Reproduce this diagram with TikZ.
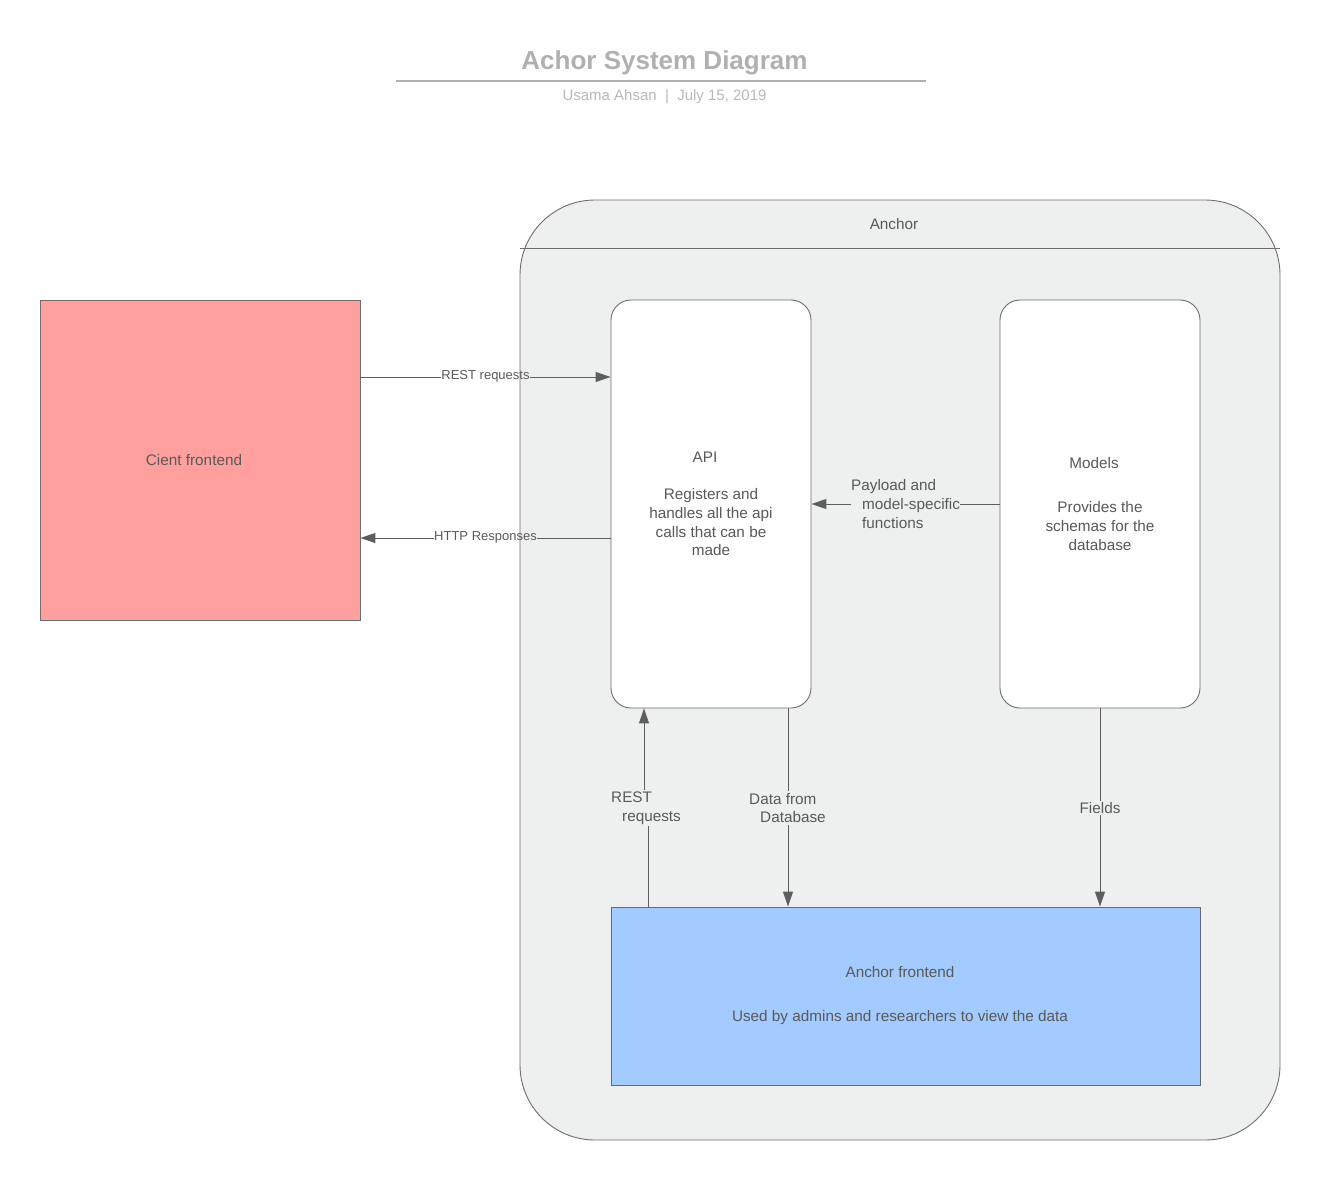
\documentclass[tikz,border=0pt]{standalone}
\usepackage{fontspec}
\setmainfont{Liberation Sans}
\usetikzlibrary{arrows.meta}
\definecolor{txt}{HTML}{595959}
\definecolor{ln}{HTML}{5E5E5E}
\definecolor{bd}{HTML}{6E6E6E}
\definecolor{ttl}{HTML}{B0B0B0}
\definecolor{sub}{HTML}{B8B8B8}
\definecolor{cont}{HTML}{EEF0EF}
\definecolor{redfill}{HTML}{FFA09E}
\definecolor{bluefill}{HTML}{A3CBFF}
\definecolor{bluebd}{HTML}{5F6B7D}
\tikzset{
  body/.style={font=\fontsize{15.3}{18.7}\selectfont, text=txt},
  small/.style={font=\fontsize{13}{15.6}\selectfont, text=txt},
  container/.style={draw=bd, fill=cont, line width=0.9pt, rounded corners=75pt, minimum width=760pt, minimum height=940pt, inner sep=0pt},
  card/.style={draw=bd, fill=white, line width=0.9pt, rounded corners=20pt, minimum width=200pt, minimum height=408pt, inner sep=0pt, body, align=center},
  flatbox/.style={draw=bd, line width=0.9pt, inner sep=0pt, body, align=center},
  lbl/.style={body, align=left, inner xsep=0pt, inner ysep=1.5pt},
  conn/.style={draw=ln, line width=1pt},
  arr/.style={conn, -{Triangle[length=15pt,width=10pt]}}
}
\begin{document}
\begin{tikzpicture}[x=1pt,y=-1pt]
\useasboundingbox (0,0) rectangle (1320,1180);
% title block
\node[font=\fontsize{26}{30}\selectfont\bfseries, text=ttl] (title) at (664.5,63) {Achor System Diagram};
\coordinate (tl) at (396,81);
\coordinate (tr) at (926,81);
\draw[ttl, line width=1.8pt] (tl) -- (tr);
\node[font=\fontsize{15}{18}\selectfont, text=sub] (subtitle) at (664.5,97) {Usama Ahsan\ \ |\ \ July 15, 2019};
% container
\node[container] (anc) at (900,670) {};
\coordinate (hdr) at (0,248);
\draw[bd, line width=0.9pt] (anc.west |- hdr) -- (anc.east |- hdr);
\node[body] (anclbl) at (894,224) {Anchor};
% boxes
\node[flatbox, fill=redfill, minimum width=320pt, minimum height=320pt] (cf) at (200,460) {};
\node[body] (cftxt) at (194,460) {Cient frontend};
\node[card] (api) at (711,504) {API\hspace*{12pt}\\[18.7pt]Registers and\\handles all the api\\calls that can be\\made};
\node[card] (mod) at (1100,504) {Models\hspace*{12pt}\\[25.3pt]Provides the\hspace*{11pt}\\schemas for the\\database};
\node[flatbox, draw=bluebd, fill=bluefill, minimum width=589pt, minimum height=178pt] (afe) at (905.5,996) {Anchor frontend\hspace*{11pt}\\[25.3pt]Used by admins and researchers to view the data\hspace*{11pt}};
% horizontal connectors
\node[small, inner sep=0pt] (rq) at (485.5,376.5) {REST requests};
\coordinate (rqy) at (0,377);
\draw[conn] (cf.east |- rqy) -- (rq.west |- rqy);
\draw[arr] (rq.east |- rqy) -- (api.west |- rqy);
\node[small, inner sep=0pt] (hr) at (485.5,537.5) {HTTP Responses};
\coordinate (hry) at (0,538);
\draw[conn] (api.west |- hry) -- (hr.east |- hry);
\draw[arr] (hr.west |- hry) -- (cf.east |- hry);
\node[lbl, anchor=west] (pl) at (851,504) {Payload and\\\hspace*{11pt}model-specific\\\hspace*{11pt}functions};
\coordinate (ply) at (0,504);
\draw[conn] (mod.west |- ply) -- (pl.east |- ply);
\draw[arr] (pl.west |- ply) -- (api.east |- ply);
% vertical connectors
\node[lbl, anchor=west] (rr) at (611,808) {REST\\\hspace*{11pt}requests};
\coordinate (rrb) at (648,0);
\coordinate (rrt) at (644,0);
\draw[conn] (afe.north -| rrb) -- (rr.south -| rrb);
\draw[arr] (rr.north -| rrt) -- (api.south -| rrt);
\node[lbl, anchor=west] (dd) at (749,808) {Data from\\\hspace*{11pt}Database};
\coordinate (ddx) at (788,0);
\draw[conn] (api.south -| ddx) -- (dd.north -| ddx);
\draw[arr] (dd.south -| ddx) -- (afe.north -| ddx);
\node[lbl, inner xsep=0pt] (fl) at (1100,808) {Fields};
\draw[conn] (mod.south) -- (fl.north);
\draw[arr] (fl.south) -- (afe.north -| fl.south);
\end{tikzpicture}
\end{document}
